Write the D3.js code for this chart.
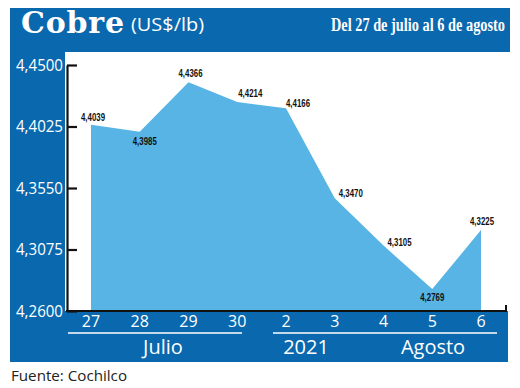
<!DOCTYPE html>
<html>
<head>
<meta charset="utf-8">
<script src="https://cdn.jsdelivr.net/npm/d3@7"></script>
<style>
  html, body { margin: 0; padding: 0; background: #fff; }
  svg { display: block; }
</style>
</head>
<body>
<svg id="chart" width="520" height="388"></svg>
<script>
// ---- data ----
const days = ["27", "28", "29", "30", "2", "3", "4", "5", "6"];
const prices = [4.4039, 4.3985, 4.4366, 4.4214, 4.4166, 4.3470, 4.3105, 4.2769, 4.3225];
const yTicks = [4.26, 4.3075, 4.355, 4.4025, 4.45];
const monthLabels = ["Julio", "2021", "Agosto"];
const title = "Cobre";
const unit = "(US$/lb)";
const subtitle = "Del 27 de julio al 6 de agosto";
const source = "Fuente: Cochilco";

// label offsets (dx, dy) relative to each point
const labelOffsets = [[2, -4], [5, 13], [2, -5], [13, -5], [12, -1], [16, -1], [16, 0], [0, 12], [1, -5]];

const DARK = "#0a68ae";
const LIGHT = "#57b4e4";

const svg = d3.select("#chart");

const locale = d3.formatLocale({ decimal: ",", thousands: ".", grouping: [3], currency: ["$", ""] });
const fmt = locale.format(".4f");

// background shapes
svg.append("rect").attr("x", 10).attr("y", 8).attr("width", 500).attr("height", 44).attr("fill", DARK);
svg.append("rect").attr("x", 10).attr("y", 8).attr("width", 55).attr("height", 354).attr("fill", DARK);
svg.append("rect").attr("x", 10).attr("y", 311).attr("width", 498).attr("height", 51).attr("fill", DARK);

// scales
const x = d3.scalePoint().domain(days).range([91, 481]).padding(0);
const y = d3.scaleLinear().domain([4.26, 4.45]).range([311, 65]);

// area
const area = d3.area()
  .x((d, i) => x(days[i]))
  .y0(y(4.26))
  .y1(d => y(d));
svg.append("path").datum(prices).attr("d", area).attr("fill", LIGHT);

// y axis
const yAxis = d3.axisLeft(y).tickValues(yTicks).tickSizeInner(-10).tickSizeOuter(0).tickPadding(5).tickFormat(fmt);
const gy = svg.append("g").attr("transform", "translate(67,0)").call(yAxis);
gy.select(".domain").attr("stroke", "#111").attr("stroke-width", 2.2);
gy.selectAll(".tick line").attr("stroke", "#111").attr("stroke-width", 2.2);
gy.selectAll(".tick text")
  .attr("fill", "#fff")
  .attr("font-family", "'Open Sans', sans-serif")
  .attr("font-size", 16)
  .attr("x", -4)
  .attr("textLength", 47)
  .attr("lengthAdjust", "spacingAndGlyphs");

// bottom axis line
const xEnd = 506;
svg.append("path")
  .attr("d", `M66,${y(4.26)}H${xEnd}V${y(4.26) - 6}`)
  .attr("fill", "none").attr("stroke", "#111").attr("stroke-width", 2);

// x labels
svg.append("g").selectAll("text").data(days).join("text")
  .attr("x", d => x(d))
  .attr("y", 327)
  .attr("text-anchor", "middle")
  .attr("fill", "#fff")
  .attr("font-family", "'Open Sans', sans-serif")
  .attr("font-size", 16)
  .text(d => d);

// month separator lines
svg.append("line").attr("x1", 68).attr("x2", 242).attr("y1", 333).attr("y2", 333).attr("stroke", "#fff").attr("stroke-width", 1.6);
svg.append("line").attr("x1", 273).attr("x2", 497).attr("y1", 333).attr("y2", 333).attr("stroke", "#fff").attr("stroke-width", 1.6);

// month labels
const monthX = [163, 306, 433];
svg.append("g").selectAll("text").data(monthLabels).join("text")
  .attr("x", (d, i) => monthX[i])
  .attr("y", 354)
  .attr("text-anchor", "middle")
  .attr("fill", "#fff")
  .attr("font-family", "'Open Sans', sans-serif")
  .attr("font-size", 20)
  .text(d => d);

// data labels
svg.append("g").selectAll("text").data(prices).join("text")
  .attr("x", (d, i) => x(days[i]) + labelOffsets[i][0])
  .attr("y", (d, i) => y(d) + labelOffsets[i][1])
  .attr("text-anchor", "middle")
  .attr("fill", "#111")
  .attr("font-family", "'Liberation Sans', sans-serif")
  .attr("font-weight", "bold")
  .attr("font-size", 11)
  .attr("textLength", 24)
  .attr("lengthAdjust", "spacingAndGlyphs")
  .text(d => fmt(d));

// header
svg.append("text").attr("x", 21).attr("y", 33)
  .attr("fill", "#fff")
  .attr("font-family", "'DejaVu Serif', serif")
  .attr("font-weight", "bold")
  .attr("font-size", 30)
  .attr("textLength", 103)
  .attr("lengthAdjust", "spacing")
  .text(title);
svg.append("text").attr("x", 131).attr("y", 31)
  .attr("fill", "#fff")
  .attr("font-family", "'Open Sans', sans-serif")
  .attr("font-size", 18)
  .attr("textLength", 73)
  .attr("lengthAdjust", "spacingAndGlyphs")
  .text(unit);
svg.append("g").attr("transform", "translate(505,31) scale(0.755,1)")
  .append("text")
  .attr("text-anchor", "end")
  .attr("fill", "#fff")
  .attr("font-family", "'Liberation Serif', serif")
  .attr("font-weight", "bold")
  .attr("font-size", 19)
  .text(subtitle);

// source
svg.append("text").attr("x", 11).attr("y", 381)
  .attr("fill", "#222")
  .attr("font-family", "'Open Sans', sans-serif")
  .attr("font-size", 15)
  .attr("textLength", 116)
  .attr("lengthAdjust", "spacingAndGlyphs")
  .text(source);
</script>
</body>
</html>
